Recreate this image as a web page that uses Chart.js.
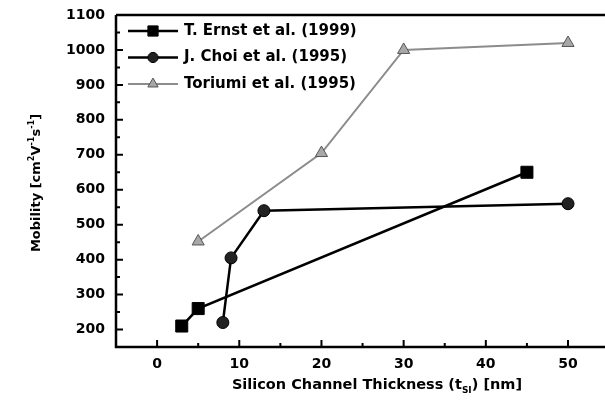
<!DOCTYPE html>
<html>
<head>
<meta charset="utf-8">
<script src="https://cdn.jsdelivr.net/npm/chart.js@4.4.0/dist/chart.umd.min.js"></script>
<style>
    html, body { margin: 0; padding: 0; background: #fff; }
    #contenedor { width: 605px; height: 410px; }
</style>
</head>
<body>
<div id="contenedor"><canvas id="grafico" width="605" height="410"></canvas></div>
<script>
// Valores
const ernstX = [3, 5, 45];
const ernstY = [210, 260, 650];
const choiX = [8, 9, 13, 50];
const choiY = [220, 405, 540, 560];
const toriumiX = [5, 20, 30, 50];
const toriumiY = [452, 705, 1000, 1020];

const ticksX = [0, 10, 20, 30, 40, 50];
const ticksY = [200, 300, 400, 500, 600, 700, 800, 900, 1000, 1100];
const etiquetas = ['T. Ernst et al. (1999)', 'J. Choi et al. (1995)', 'Toriumi et al. (1995)'];

const fuente = '"DejaVu Sans", sans-serif';

function puntos(xs, ys) {
    return xs.map((x, i) => ({ x: x, y: ys[i] }));
}

// Dibuja texto con superindices / subindices, centrado en x
function textoConIndices(ctx, partes, x, y, tam) {
    let total = 0;
    partes.forEach(p => {
        ctx.font = 'bold ' + (p.sup || p.sub ? tam * 0.62 : tam) + 'px ' + fuente;
        p.ancho = ctx.measureText(p.t).width;
        total += p.ancho;
    });
    let cx = x - total / 2;
    ctx.textAlign = 'left';
    ctx.textBaseline = 'alphabetic';
    partes.forEach(p => {
        ctx.font = 'bold ' + (p.sup || p.sub ? tam * 0.62 : tam) + 'px ' + fuente;
        let dy = 0;
        if (p.sup) dy = -tam * 0.45;
        if (p.sub) dy = tam * 0.3;
        ctx.fillText(p.t, cx, y + dy);
        cx += p.ancho;
    });
}

const pluginEjes = {
    id: 'ejes',
    afterDraw(chart) {
        const ctx = chart.ctx;
        const a = chart.chartArea;
        const sx = chart.scales.x;
        const sy = chart.scales.y;
        ctx.save();

        // Lineas de los ejes (el borde derecho queda fuera del recorte)
        ctx.strokeStyle = '#000';
        ctx.lineWidth = 2.5;
        ctx.beginPath();
        ctx.moveTo(a.left, a.top);
        ctx.lineTo(a.left, a.bottom);
        ctx.lineTo(a.right, a.bottom);
        ctx.moveTo(a.left, a.top);
        ctx.lineTo(a.right, a.top);
        ctx.stroke();

        // Marcas hacia adentro
        ctx.lineWidth = 2;
        ctx.beginPath();
        for (let v = 200; v <= 1100; v += 50) {
            const y = sy.getPixelForValue(v);
            const largo = v % 100 === 0 ? 7 : 4;
            ctx.moveTo(a.left, y);
            ctx.lineTo(a.left + largo, y);
        }
        for (let v = 0; v <= 50; v += 5) {
            const x = sx.getPixelForValue(v);
            const largo = v % 10 === 0 ? 7 : 4;
            ctx.moveTo(x, a.bottom);
            ctx.lineTo(x, a.bottom - largo);
        }
        ctx.stroke();

        // Titulos de los ejes
        ctx.fillStyle = '#000';
        textoConIndices(ctx, [
            { t: 'Silicon Channel Thickness (t' },
            { t: 'SI', sub: true },
            { t: ') [nm]' }
        ], 377, 388.5, 14.5);

        ctx.save();
        ctx.translate(40, 183);
        ctx.rotate(-Math.PI / 2);
        textoConIndices(ctx, [
            { t: 'Mobility [cm' },
            { t: '2', sup: true },
            { t: 'V' },
            { t: '-1', sup: true },
            { t: 's' },
            { t: '-1', sup: true },
            { t: ']' }
        ], 0, 0, 13);
        ctx.restore();

        // Leyenda dentro del area
        chart.data.datasets.forEach((ds, i) => {
            const y = 31 + i * 26.5;
            ctx.strokeStyle = ds.borderColor;
            ctx.lineWidth = ds.borderWidth;
            ctx.beginPath();
            ctx.moveTo(128, y);
            ctx.lineTo(178, y);
            ctx.stroke();
            ctx.fillStyle = ds.pointBackgroundColor;
            ctx.strokeStyle = ds.pointBorderColor;
            ctx.lineWidth = ds.pointBorderWidth;
            Chart.helpers.drawPoint(ctx, {
                pointStyle: ds.pointStyle,
                rotation: 0,
                radius: ds.pointRadius * 0.85,
                borderWidth: ds.pointBorderWidth
            }, 153, y);
            ctx.fillStyle = '#000';
            ctx.font = 'bold 15px ' + fuente;
            ctx.textAlign = 'left';
            ctx.textBaseline = 'middle';
            ctx.fillText(ds.label, 184, y);
        });

        ctx.restore();
    }
};

function crearGrafico() {
    const ctx = document.getElementById('grafico').getContext('2d');

    new Chart(ctx, {
        type: 'scatter',
        data: {
            datasets: [
                {
                    label: etiquetas[0],
                    data: puntos(ernstX, ernstY),
                    showLine: true,
                    tension: 0,
                    borderColor: '#000',
                    borderWidth: 2.5,
                    pointStyle: 'rect',
                    pointRadius: 8.5,
                    pointBorderWidth: 1,
                    pointBackgroundColor: '#000',
                    pointBorderColor: '#000'
                },
                {
                    label: etiquetas[1],
                    data: puntos(choiX, choiY),
                    showLine: true,
                    tension: 0,
                    borderColor: '#000',
                    borderWidth: 2.5,
                    pointStyle: 'circle',
                    pointRadius: 6,
                    pointBorderWidth: 1,
                    pointBackgroundColor: '#222',
                    pointBorderColor: '#000'
                },
                {
                    label: etiquetas[2],
                    data: puntos(toriumiX, toriumiY),
                    showLine: true,
                    tension: 0,
                    borderColor: '#8c8c8c',
                    borderWidth: 2,
                    pointStyle: 'triangle',
                    pointRadius: 7,
                    pointBorderWidth: 1,
                    pointBackgroundColor: '#a8a8a8',
                    pointBorderColor: '#555'
                }
            ]
        },
        options: {
            responsive: false,
            animation: false,
            devicePixelRatio: 1,
            layout: {
                autoPadding: false,
                padding: { top: 15, right: 0, left: 0, bottom: 0 }
            },
            plugins: {
                legend: { display: false },
                tooltip: { enabled: false }
            },
            events: [],
            scales: {
                x: {
                    type: 'linear',
                    min: -5,
                    max: 54.5,
                    grid: { display: false, drawTicks: false },
                    border: { display: false },
                    afterBuildTicks: function(scale) {
                        scale.ticks = ticksX.map(v => ({ value: v }));
                    },
                    afterFit: function(scale) {
                        scale.height = 63;
                        scale.paddingLeft = 0;
                        scale.paddingRight = 0;
                    },
                    ticks: {
                        padding: 9,
                        color: '#000',
                        maxRotation: 0,
                        callback: v => String(v),
                        font: { family: fuente, size: 14, weight: 'bold' }
                    }
                },
                y: {
                    type: 'linear',
                    min: 150,
                    max: 1100,
                    grid: { display: false, drawTicks: false },
                    border: { display: false },
                    afterBuildTicks: function(scale) {
                        scale.ticks = ticksY.map(v => ({ value: v }));
                    },
                    afterFit: function(scale) {
                        scale.width = 116;
                        scale.paddingTop = 0;
                        scale.paddingBottom = 0;
                    },
                    ticks: {
                        padding: 11,
                        color: '#000',
                        callback: v => String(v),
                        font: { family: fuente, size: 14, weight: 'bold' }
                    }
                }
            }
        },
        plugins: [pluginEjes]
    });
}

crearGrafico();
</script>
</body>
</html>
